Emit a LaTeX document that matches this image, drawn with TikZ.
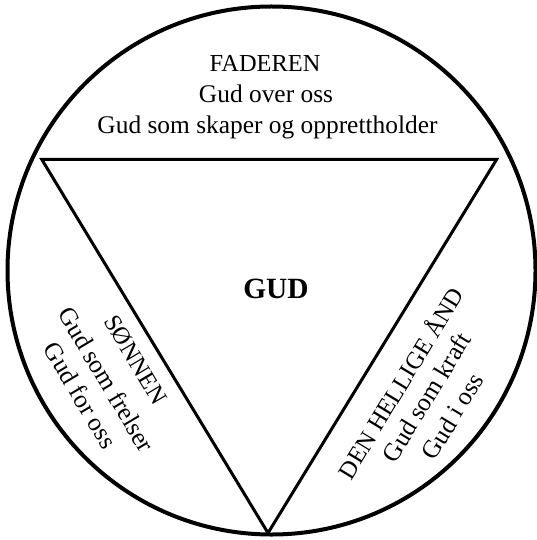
\documentclass[tikz,border=0pt]{standalone}
\usepackage{fontspec}
\setmainfont{Liberation Serif}
\begin{document}
\begin{tikzpicture}[x=1bp,y=-1bp,
  ring/.style={line width=4bp},
  tri/.style={line width=3bp,line join=miter},
  capline/.style={inner sep=0pt,text height=0.68em,text depth=0pt,font=\fontsize{24.5}{30}\selectfont},
  txtline/.style={inner sep=0pt,text height=0.68em,text depth=0pt,font=\fontsize{25.5}{30}\selectfont},
  godlabel/.style={inner sep=0pt,text height=0.68em,text depth=0pt,font=\fontsize{29.5}{34}\selectfont\bfseries}]
\useasboundingbox (0,0) rectangle (537,540);
\draw[ring] (271.5,270.5) circle[radius=264];
\coordinate (A) at (41.7,159.3);
\coordinate (B) at (496.7,159.3);
\coordinate (C) at (268,533);
\draw[tri] (A) -- (B) -- (C) -- cycle;
% top
\node[capline] (f1) at (265,68) {FADEREN};
\node[txtline] (f2) at (266,99) {Gud over oss};
\node[txtline] (f3) at (267.5,130) {Gud som skaper og opprettholder};
% centre
\node[godlabel] (g) at (276,295) {GUD};
% left
\node[capline,rotate=-59.2] (s1) at (132,362) {SØNNEN};
\node[txtline,rotate=-59.2] (s2) at (102,382) {Gud som frelser};
\node[txtline,rotate=-59.2] (s3) at (76,398) {Gud for oss};
% right
\node[capline,rotate=58.7] (h1) at (405,386) {DEN HELLIGE ÅND};
\node[txtline,rotate=58.7] (h2) at (431,400) {Gud som kraft};
\node[txtline,rotate=58.7] (h3) at (457,419) {Gud i oss};
\end{tikzpicture}
\end{document}
